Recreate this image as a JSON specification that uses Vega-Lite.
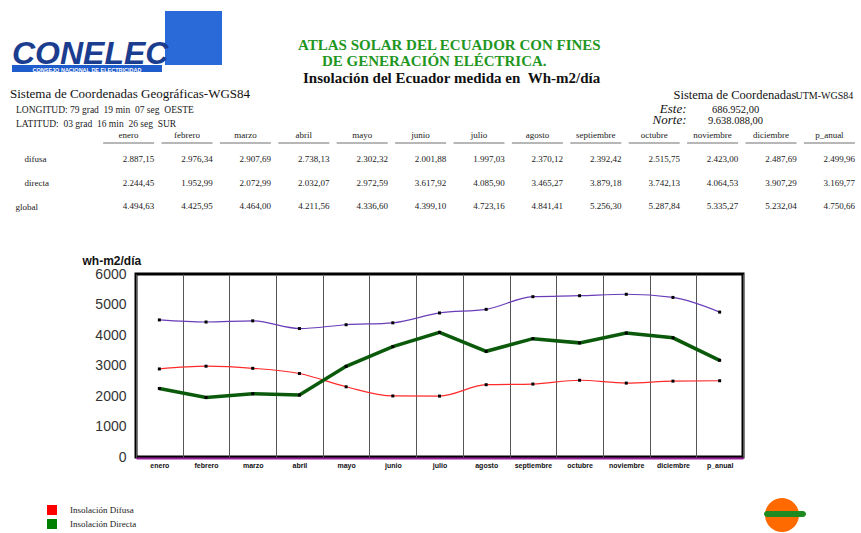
{
  "$schema": "https://vega.github.io/schema/vega-lite/v6.json",
  "padding": 0,
  "background": "white",
  "bounds": "flush",
  "spacing": 0,
  "datasets": {
    "insolacion": [
      {"mes": "enero", "difusa": 2887.15, "directa": 2244.45, "global": 4494.63},
      {"mes": "febrero", "difusa": 2976.34, "directa": 1952.99, "global": 4425.95},
      {"mes": "marzo", "difusa": 2907.69, "directa": 2072.99, "global": 4464.00},
      {"mes": "abril", "difusa": 2738.13, "directa": 2032.07, "global": 4211.56},
      {"mes": "mayo", "difusa": 2302.32, "directa": 2972.59, "global": 4336.60},
      {"mes": "junio", "difusa": 2001.88, "directa": 3617.92, "global": 4399.10},
      {"mes": "julio", "difusa": 1997.03, "directa": 4085.90, "global": 4723.16},
      {"mes": "agosto", "difusa": 2370.12, "directa": 3465.27, "global": 4841.41},
      {"mes": "septiembre", "difusa": 2392.42, "directa": 3879.18, "global": 5256.30},
      {"mes": "octubre", "difusa": 2515.75, "directa": 3742.13, "global": 5287.84},
      {"mes": "noviembre", "difusa": 2423.00, "directa": 4064.53, "global": 5335.27},
      {"mes": "diciembre", "difusa": 2487.69, "directa": 3907.29, "global": 5232.04},
      {"mes": "p_anual", "difusa": 2499.96, "directa": 3169.77, "global": 4750.66}
    ]
  },
  "config": {
    "view": {"stroke": null},
    "locale": {"number": {"decimal": ",", "thousands": ".", "grouping": [3], "currency": ["", ""]}}
  },
  "vconcat": [
    {
      "width": 1, "height": 10,
      "data": {"values": [{}]}, "mark": {"type": "text", "text": ""}, "encoding": {},
      "title": {
        "text": "ATLAS SOLAR DEL ECUADOR CON FINES",
        "orient": "bottom", "anchor": "start", "frame": "group", "dx": 298, "offset": 27,
        "font": "Liberation Serif", "fontSize": 15, "fontWeight": "bold", "color": "#1f961f"
      }
    },
    {
      "spacing": 0, "bounds": "flush",
      "hconcat": [
        {
          "width": 165, "height": 1, "data": {"values": [{}]}, "mark": {"type": "text", "text": ""}, "encoding": {},
          "title": {
            "text": "DE GENERACIÓN ELÉCTRICA.",
            "orient": "bottom", "anchor": "start", "frame": "group", "dx": 322, "offset": 37,
            "font": "Liberation Serif", "fontSize": 15, "fontWeight": "bold", "color": "#1f961f"
          }
        },
        {
          "width": 57, "height": 54,
          "view": {"fill": "#2a6ad8", "stroke": null},
          "data": {"values": [{}]}, "mark": {"type": "text", "text": ""}, "encoding": {},
          "title": {"text": "CONELEC", "orient": "bottom", "anchor": "start", "frame": "group", "dx": -153, "offset": -26,
                    "font": "Liberation Sans", "fontSize": 32, "fontWeight": "bold", "fontStyle": "italic", "color": "#1b3d8f"}
        }
      ]
    },
    {"width": 1, "height": 54, "data": {"values": [{}]}, "mark": {"type": "text", "text": ""}, "encoding": {}},
    {
      "spacing": 0, "bounds": "flush",
      "hconcat": [
        {
          "width": 12, "height": 1, "data": {"values": [{}]}, "mark": {"type": "text", "text": ""}, "encoding": {},
          "title": {
            "text": "Insolación del Ecuador medida en\u2002Wh-m2/día",
            "orient": "bottom", "anchor": "start", "frame": "group", "dx": 303, "offset": 0,
            "font": "Liberation Serif", "fontSize": 15, "fontWeight": "bold", "color": "#111111"
          }
        },
        {
          "width": 150, "height": 7,
          "view": {"fill": "#1f5ccc", "stroke": null},
          "data": {"values": [{}]}, "mark": {"type": "text", "text": ""}, "encoding": {},
          "title": {"text": "CONSEJO NACIONAL DE ELECTRICIDAD", "orient": "bottom", "anchor": "middle", "frame": "group", "offset": -6,
                    "font": "Liberation Sans", "fontSize": 5.5, "fontWeight": "bold", "color": "#ffffff"}
        }
      ]
    },
    {"width": 1, "height": 7, "data": {"values": [{}]}, "mark": {"type": "text", "text": ""}, "encoding": {}},
    {
      "width": 1, "height": 71,
      "data": {"values": [{}]}, "mark": {"type": "text", "text": ""}, "encoding": {},
      "title": {
        "text": "Sistema de Coordenadas Geográficas-WGS84",
        "orient": "bottom", "anchor": "start", "frame": "group", "dx": 10, "offset": -55,
        "font": "Liberation Serif", "fontSize": 13, "fontWeight": "normal", "color": "#111111"
      }
    },
    {
      "spacing": 0, "bounds": "flush",
      "hconcat": [
        {
          "width": 100, "height": 1, "data": {"values": [{}]}, "mark": {"type": "text", "text": ""}, "encoding": {},
          "title": {
            "text": ["LONGITUD: 79 grad\u200219 min\u200207 seg\u2002OESTE", "LATITUD:\u200203 grad\u200216 min\u200226 seg\u2002SUR"],
            "orient": "bottom", "anchor": "start", "frame": "group", "align": "left", "dx": 16, "offset": -44,
            "font": "Liberation Serif", "fontSize": 9.5, "fontWeight": "normal", "color": "#222222", "lineHeight": 14
          }
        },
        {
          "width": 758, "height": 79,
          "data": {"name": "insolacion"},
          "transform": [{"fold": ["difusa", "directa", "global"], "as": ["serie", "valor"]}],
          "layer": [
            {
              "mark": {"type": "text", "align": "right", "baseline": "middle", "font": "Liberation Serif", "fontSize": 9, "color": "#1a1a1a"},
              "encoding": {
                "x": {"field": "mes", "type": "nominal", "bandPosition": 1,
                      "sort": ["enero", "febrero", "marzo", "abril", "mayo", "junio", "julio", "agosto", "septiembre", "octubre", "noviembre", "diciembre", "p_anual"],
                      "scale": {"type": "band", "paddingInner": 0.12, "paddingOuter": 0.05},
                      "axis": {"orient": "top", "ticks": false, "domain": false, "grid": false, "labelAngle": 0, "labelPadding": 4,
                               "labelFont": "Liberation Serif", "labelFontSize": 9, "labelColor": "#222222", "labelOverlap": false,
                               "title": "Sistema de Coordenadas", "titleX": 573, "titleY": -45, "titleAlign": "left", "titleAnchor": "start",
                               "titleBaseline": "alphabetic", "titleFont": "Liberation Serif", "titleFontSize": 12.5, "titleFontWeight": "normal", "titleColor": "#111111"}},
                "y": {"field": "serie", "type": "nominal", "sort": ["difusa", "directa", "global"],
                      "scale": {"type": "point", "padding": 0.68},
                      "axis": {"orient": "left", "ticks": false, "domain": false, "grid": false, "labelAlign": "left", "labelPadding": 85,
                               "labelExpr": "datum.value === 'global' ? 'global' : (datum.value === 'difusa' ? '\u200b\u2002\u2002' + datum.value : '\u200b\u2002\u2002' + datum.value)",
                               "labelFont": "Liberation Serif", "labelFontSize": 9, "labelColor": "#222222",
                               "title": ["Este:", "Norte:"], "titleAngle": 0, "titleX": 586, "titleY": -31, "titleAlign": "right", "titleBaseline": "alphabetic",
                               "titleLineHeight": 11, "titleFont": "Liberation Serif", "titleFontSize": 13, "titleFontStyle": "italic", "titleFontWeight": "normal", "titleColor": "#111111"}},
                "text": {"field": "valor", "type": "quantitative", "format": ",.2f"}
              }
            },
            {
              "transform": [{"filter": "datum.serie === 'difusa'"}],
              "mark": {"type": "tick", "orient": "horizontal", "size": 51, "thickness": 1, "yOffset": -16, "color": "#333333"},
              "encoding": {
                "x": {"field": "mes", "type": "nominal", "axis": null,
                      "sort": ["enero", "febrero", "marzo", "abril", "mayo", "junio", "julio", "agosto", "septiembre", "octubre", "noviembre", "diciembre", "p_anual"]},
                "y": {"field": "serie", "type": "nominal", "sort": ["difusa", "directa", "global"], "axis": null}
              }
            },
            {
              "mark": {"type": "text", "text": ""},
              "encoding": {
                "x": {"field": "mes", "type": "nominal",
                      "sort": ["enero", "febrero", "marzo", "abril", "mayo", "junio", "julio", "agosto", "septiembre", "octubre", "noviembre", "diciembre", "p_anual"],
                      "axis": {"orient": "bottom", "labels": false, "ticks": false, "domain": false, "grid": false,
                               "title": "UTM-WGS84", "titleX": 695, "titleY": -124, "titleAlign": "left", "titleBaseline": "alphabetic",
                               "titleFont": "Liberation Serif", "titleFontSize": 10, "titleFontWeight": "normal", "titleColor": "#111111"}},
                "y": {"field": "serie", "type": "nominal", "sort": ["difusa", "directa", "global"],
                      "axis": {"orient": "right", "labels": false, "ticks": false, "domain": false, "grid": false,
                               "title": ["686.952,00", "9.638.088,00"], "titleAngle": 0, "titleX": -123, "titleY": -31, "titleAlign": "center",
                               "titleBaseline": "alphabetic", "titleLineHeight": 11,
                               "titleFont": "Liberation Serif", "titleFontSize": 10.5, "titleFontWeight": "normal", "titleColor": "#111111"}}
              }
            }
          ],
          "resolve": {"axis": {"x": "independent", "y": "independent"}}
        }
      ]
    },
    {"width": 1, "height": 131, "data": {"values": [{}]}, "mark": {"type": "text", "text": ""}, "encoding": {}},
    {
      "spacing": 0, "bounds": "flush",
      "hconcat": [
        {"width": 136, "height": 1, "data": {"values": [{}]}, "mark": {"type": "text", "text": ""}, "encoding": {}},
        {
          "width": 607, "height": 183,
          "view": {"stroke": "#000000", "strokeWidth": 3},
          "data": {"name": "insolacion"},
          "transform": [{"fold": ["global", "difusa", "directa"], "as": ["serie", "valor"]}],
          "encoding": {
            "x": {"field": "mes", "type": "nominal", "bandPosition": 0.5,
                  "sort": ["enero", "febrero", "marzo", "abril", "mayo", "junio", "julio", "agosto", "septiembre", "octubre", "noviembre", "diciembre", "p_anual"],
                  "scale": {"type": "band", "paddingInner": 0, "paddingOuter": 0},
                  "axis": {"title": null, "tickBand": "extent", "grid": true, "gridColor": "#555555", "gridWidth": 1, "ticks": false,
                           "labelAngle": 0, "labelOverlap": false, "labelFont": "Liberation Sans", "labelFontSize": 7, "labelFontWeight": "bold",
                           "labelColor": "#111111", "labelPadding": 3, "domainColor": "#9b1f9b", "domainWidth": 2, "offset": 1}},
            "y": {"field": "valor", "type": "quantitative", "scale": {"domain": [0, 6000]},
                  "axis": {"values": [0, 1000, 2000, 3000, 4000, 5000, 6000], "format": "d", "grid": false, "ticks": false, "domain": false,
                           "labelFont": "Liberation Sans", "labelFontSize": 14, "labelColor": "#333333", "labelPadding": 10,
                           "title": "wh-m2/día", "titleAngle": 0, "titleX": -54, "titleY": -10, "titleAlign": "left", "titleBaseline": "alphabetic",
                           "titleFont": "Liberation Sans", "titleFontSize": 12, "titleFontWeight": "bold", "titleColor": "#111111"}},
            "color": {"field": "serie", "type": "nominal",
                      "scale": {"domain": ["global", "difusa", "directa"], "range": ["#6a3db8", "#ff2a2a", "#0b5a0b"]},
                      "legend": {"values": ["difusa", "directa"], "orient": "none", "legendX": 47, "legendY": 504, "title": null,
                                 "symbolType": "square", "symbolSize": 100, "symbolStrokeWidth": 0,
                                 "labelExpr": "datum.value === 'difusa' ? 'Insolación Difusa' : 'Insolación Directa'",
                                 "labelFont": "Liberation Serif", "labelFontSize": 9, "labelColor": "#222222", "labelOffset": 13,
                                 "rowPadding": 4, "padding": 0, "direction": "vertical",
                                 "encode": {"symbols": {"update": {"fill": {"signal": "datum.value === 'directa' ? '#008000' : '#ff0000'"}, "stroke": {"value": "transparent"}, "opacity": {"value": 1}}}}}}
          },
          "layer": [
            {
              "transform": [{"filter": "datum.serie !== 'directa'"}],
              "mark": {"type": "line", "interpolate": "monotone", "strokeWidth": 1.2}
            },
            {
              "transform": [{"filter": "datum.serie === 'directa'"}],
              "mark": {"type": "line", "interpolate": "linear", "strokeWidth": 3.5}
            },
            {
              "mark": {"type": "square", "size": 9, "opacity": 1},
              "encoding": {"color": {"value": "#000000"}}
            }
          ]
        }
      ]
    },
    {"width": 1, "height": 224, "data": {"values": [{}]}, "mark": {"type": "text", "text": ""}, "encoding": {}},
    {
      "spacing": 0, "bounds": "flush",
      "hconcat": [
        {"width": 765, "height": 1, "data": {"values": [{}]}, "mark": {"type": "text", "text": ""}, "encoding": {}},
        {"width": 34, "height": 34, "view": {"fill": "#ff6a00", "stroke": null, "cornerRadius": 17}, "data": {"values": [{}]}, "mark": {"type": "text", "text": ""}, "encoding": {}}
      ]
    },
    {"width": 1, "height": 13, "data": {"values": [{}]}, "mark": {"type": "text", "text": ""}, "encoding": {}},
    {
      "spacing": 0, "bounds": "flush",
      "hconcat": [
        {"width": 764, "height": 1, "data": {"values": [{}]}, "mark": {"type": "text", "text": ""}, "encoding": {}},
        {"width": 42, "height": 6, "view": {"fill": "#1f8a1f", "stroke": null, "cornerRadius": 3}, "data": {"values": [{}]}, "mark": {"type": "text", "text": ""}, "encoding": {}}
      ]
    }
  ]
}
